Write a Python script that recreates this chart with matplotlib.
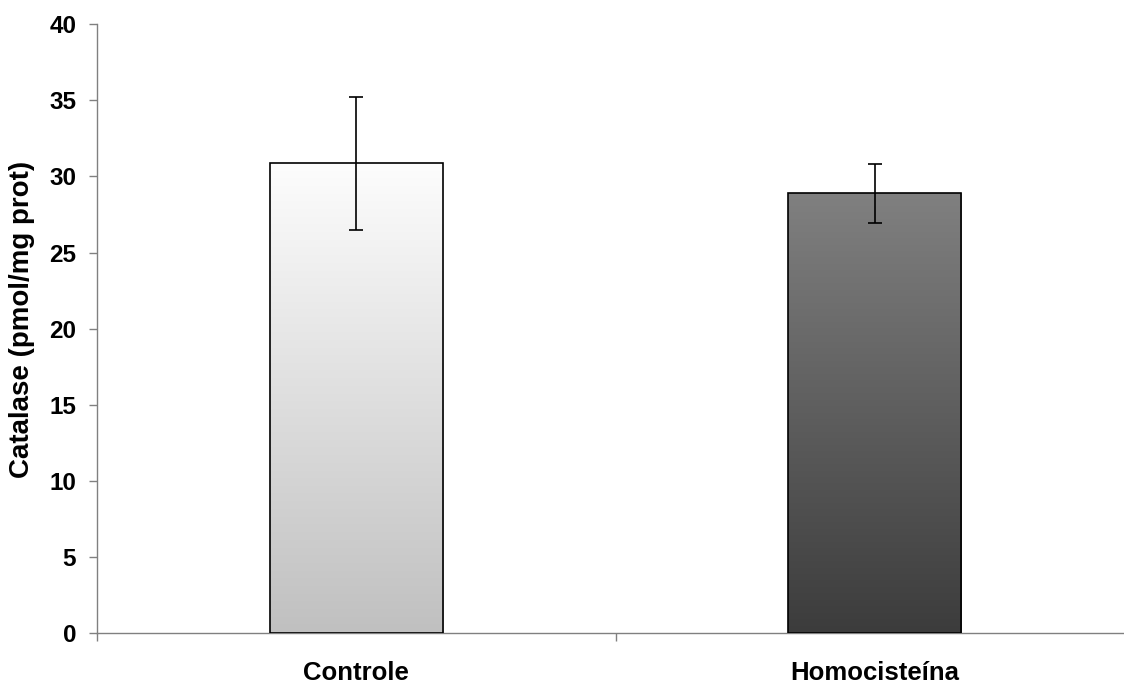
import numpy as np
import matplotlib.pyplot as plt
from matplotlib.colors import LinearSegmentedColormap

plt.rcParams['font.family'] = ['Liberation Sans', 'DejaVu Sans']
plt.rcParams['font.weight'] = 'bold'

# data
groups = ['Controle', 'Homocisteína']
means = [30.85, 28.88]
errs = [4.37, 1.93]
# gradient colours (top, bottom) for each bar
grad = [('#fdfdfd', '#c0c0c0'), ('#808080', '#3c3c3c')]

fig = plt.figure(figsize=(11.24, 6.85), dpi=100)
ax = fig.add_axes([0.0863, 0.0752, 0.9226, 0.8898])

x = np.arange(len(groups))
width = 0.334
bars = ax.bar(x, means, width=width, color='none', edgecolor='black',
              linewidth=1.2, zorder=3)

# vertical gradient fill clipped to each bar
for b, (top, bot) in zip(bars, grad):
    cmap = LinearSegmentedColormap.from_list('g', [bot, top])
    x0, y0 = b.get_x(), b.get_y()
    w, h = b.get_width(), b.get_height()
    img = ax.imshow(np.linspace(0, 1, 256).reshape(-1, 1), cmap=cmap,
                    origin='lower', aspect='auto',
                    extent=[x0, x0 + w, y0, y0 + h], zorder=2)
    img.set_clip_path(b)

ax.errorbar(x, means, yerr=errs, fmt='none', ecolor='black',
            elinewidth=1.2, capsize=5, capthick=1.2, zorder=4)

ax.set_xlim(-0.5, 1.5)
ax.set_ylim(0, 40)
ax.set_yticks(range(0, 41, 5))
ax.set_xticks([-0.5, 0.5, 1.5])
ax.set_xticklabels([])
ax.set_xticks(x, minor=True)
ax.set_xticklabels(groups, minor=True, fontsize=18.5, fontweight='bold')
ax.tick_params(axis='x', which='minor', length=0, pad=19.5)
ax.tick_params(axis='x', which='major', length=6, color='#808080', width=1)
ax.tick_params(axis='y', length=6, color='#808080', width=1, labelsize=17.5, pad=9)

for s in ['top', 'right']:
    ax.spines[s].set_visible(False)
for s in ['left', 'bottom']:
    ax.spines[s].set_color('#808080')
    ax.spines[s].set_linewidth(1)

ax.set_ylabel('Catalase (pmol/mg prot)', fontsize=20, fontweight='bold', labelpad=10)
ax.yaxis.set_label_coords(-0.06, 0.515)

fig.savefig('out.png', dpi=100)
